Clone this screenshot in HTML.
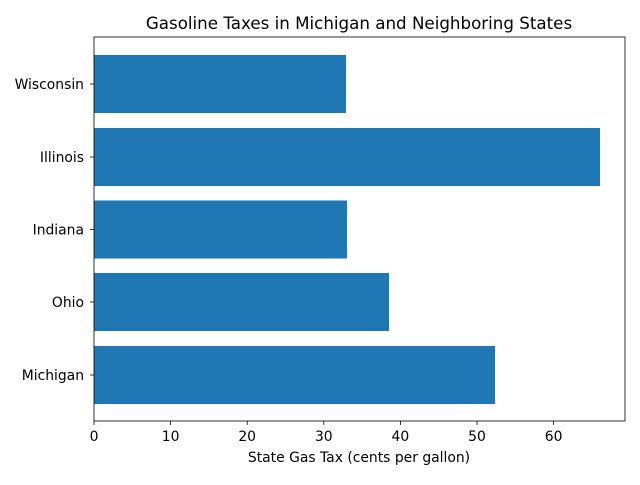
<!DOCTYPE html>
<html><head><style>body{margin:0;background:#fff}</style></head><body>
<svg width="640" height="480" xmlns="http://www.w3.org/2000/svg" font-family="DejaVu Sans, Liberation Sans, sans-serif">
<rect width="640" height="480" fill="#fff"/>
<g fill="#1f77b4">
<rect x="94" y="55" width="252" height="58"/>
<rect x="94" y="128" width="506" height="58"/>
<rect x="94" y="200.5" width="253" height="58"/>
<rect x="94" y="273" width="295" height="58"/>
<rect x="94" y="346" width="401" height="58"/>
</g>
<rect x="94" y="37" width="531" height="384" fill="none" stroke="#000" stroke-width="0.8"/>
<g stroke="#000" stroke-width="0.8">
<line x1="94" y1="421" x2="94" y2="425"/>
<line x1="170.6" y1="421" x2="170.6" y2="425"/>
<line x1="247.2" y1="421" x2="247.2" y2="425"/>
<line x1="323.8" y1="421" x2="323.8" y2="425"/>
<line x1="400.4" y1="421" x2="400.4" y2="425"/>
<line x1="477" y1="421" x2="477" y2="425"/>
<line x1="553.6" y1="421" x2="553.6" y2="425"/>
<line x1="90" y1="84" x2="94" y2="84"/>
<line x1="90" y1="157" x2="94" y2="157"/>
<line x1="90" y1="229.5" x2="94" y2="229.5"/>
<line x1="90" y1="302" x2="94" y2="302"/>
<line x1="90" y1="375" x2="94" y2="375"/>
</g>
<g font-size="13.9" text-anchor="middle" fill="#000">
<text x="94" y="441">0</text>
<text x="170.6" y="441">10</text>
<text x="247.2" y="441">20</text>
<text x="323.8" y="441">30</text>
<text x="400.4" y="441">40</text>
<text x="477" y="441">50</text>
<text x="553.6" y="441">60</text>
<text x="359" y="462">State Gas Tax (cents per gallon)</text>
<text x="359" y="29" font-size="16.7">Gasoline Taxes in Michigan and Neighboring States</text>
</g>
<g font-size="13.9" text-anchor="end" fill="#000">
<text x="84" y="89">Wisconsin</text>
<text x="84" y="162">Illinois</text>
<text x="84" y="234.5">Indiana</text>
<text x="84" y="307">Ohio</text>
<text x="84" y="380">Michigan</text>
</g>
</svg>
</body></html>
